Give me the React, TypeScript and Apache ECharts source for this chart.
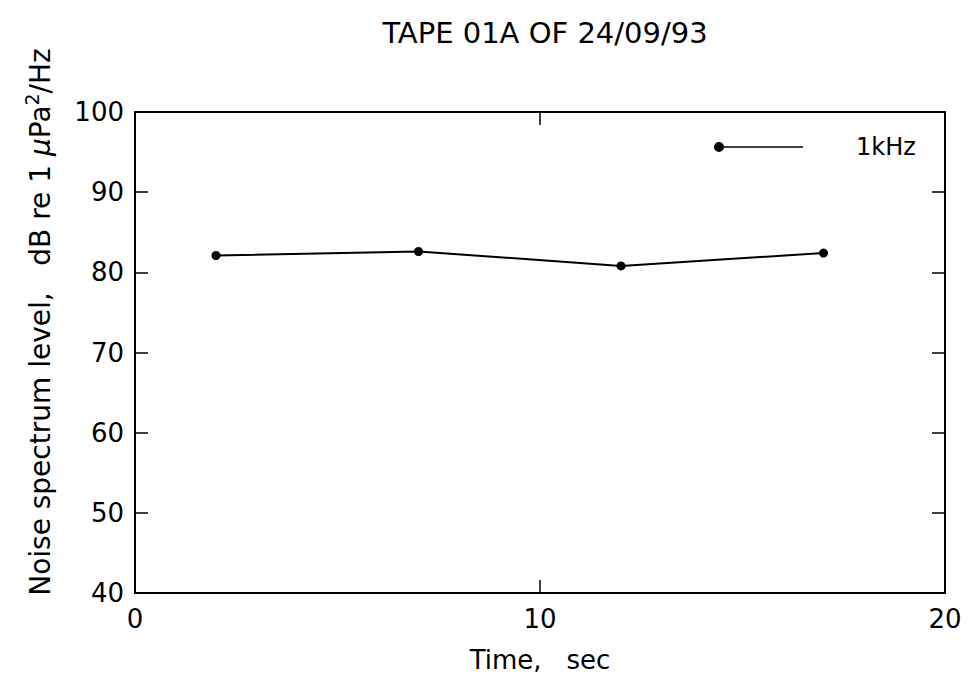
import React, { useEffect, useRef } from "react";
import * as echarts from "echarts";

const title = "TAPE 01A OF 24/09/93";
const seriesName = "1kHz";
const timeSec = [2, 7, 12, 17];
const levelDb = [82.1, 82.6, 80.8, 82.4];
const xName = "Time,   sec";

const FONT = "'DejaVu Sans', sans-serif";

export default function App() {
  const ref = useRef<HTMLDivElement>(null);
  useEffect(() => {
    if (!ref.current) return;
    const chart = echarts.init(ref.current, undefined, { renderer: "svg" });
    const data = timeSec.map((t, i) => [t, levelDb[i]]);
    const tickCommon = {
      axisLine: { show: true, onZero: false, lineStyle: { color: "#000", width: 2 } },
      axisTick: { show: true, inside: true, length: 13, lineStyle: { color: "#000", width: 1.5 } },
      splitLine: { show: false },
    };
    chart.setOption({
      animation: false,
      backgroundColor: "#fff",
      title: {
        text: title,
        left: 540,
        top: 13,
        textAlign: "center",
        textStyle: { fontFamily: FONT, fontSize: 29, fontWeight: "normal", color: "#000" },
      },
      legend: {
        left: 714,
        top: 135,
        padding: 0,
        itemWidth: 89,
        itemHeight: 10,
        icon: "path://M0,5 A5,5 0 1,1 10,5 A5,5 0 1,1 0,5 Z M9,4.3 L89,4.3 L89,5.7 L9,5.7 Z",
        textStyle: { fontFamily: FONT, fontSize: 24, color: "#000", padding: [0, 0, 0, 48] },
        data: [seriesName],
      },
      grid: { left: 135, right: 27, top: 112, bottom: 89 },
      xAxis: [
        {
          type: "value",
          min: 0,
          max: 20,
          interval: 10,
          position: "bottom",
          name: xName,
          nameLocation: "middle",
          nameGap: 54,
          nameTextStyle: { fontFamily: FONT, fontSize: 26, color: "#000" },
          axisLabel: { fontFamily: FONT, fontSize: 26, color: "#000", margin: 13 },
          ...tickCommon,
        },
        {
          type: "value",
          min: 0,
          max: 20,
          interval: 10,
          position: "top",
          axisLabel: { show: false },
          ...tickCommon,
        },
      ],
      yAxis: [
        {
          type: "value",
          min: 40,
          max: 100,
          interval: 10,
          position: "left",
          axisLabel: { fontFamily: FONT, fontSize: 26, color: "#000", margin: 11 },
          ...tickCommon,
        },
        {
          type: "value",
          min: 40,
          max: 100,
          interval: 10,
          position: "right",
          axisLabel: { show: false },
          ...tickCommon,
        },
      ],
      graphic: [
        {
          type: "text",
          x: 40,
          y: 322,
          rotation: Math.PI / 2,
          style: {
            text: "Noise spectrum level,   dB re 1 {mu|μ}Pa{sup|2}/Hz",
            fontFamily: FONT,
            fontSize: 28,
            fill: "#000",
            align: "center",
            verticalAlign: "middle",
            rich: {
              mu: { fontFamily: FONT, fontSize: 28, fontStyle: "italic", fill: "#000" },
              sup: { fontFamily: FONT, fontSize: 19, fill: "#000", padding: [0, 0, 16, 0] },
            },
          },
        },
      ],
      series: [
        {
          name: seriesName,
          type: "line",
          data,
          xAxisIndex: 0,
          yAxisIndex: 0,
          symbol: "circle",
          symbolSize: 9,
          itemStyle: { color: "#000" },
          lineStyle: { color: "#000", width: 2 },
        },
      ],
    });
    return () => chart.dispose();
  }, []);
  return (
    <div
      ref={ref}
      style={{ position: "fixed", left: 0, top: 0, width: 972, height: 682, background: "#fff" }}
    />
  );
}
